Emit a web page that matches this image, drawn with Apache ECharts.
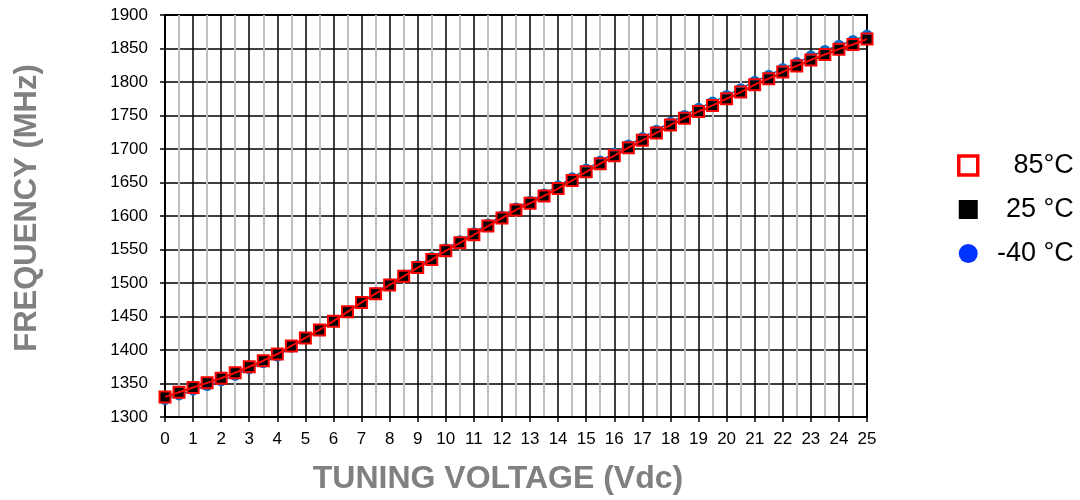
<!DOCTYPE html>
<html>
<head>
<meta charset="utf-8">
<script src="https://cdn.jsdelivr.net/npm/echarts@6/dist/echarts.min.js"></script>
<style>html,body{margin:0;padding:0;background:#fff;}#c{width:1080px;height:500px;}</style>
</head>
<body>
<div id="c"></div>
<script>
const voltage = [0,0.5,1,1.5,2,2.5,3,3.5,4,4.5,5,5.5,6,6.5,7,7.5,8,8.5,9,9.5,10,10.5,11,11.5,12,12.5,13,13.5,14,14.5,15,15.5,16,16.5,17,17.5,18,18.5,19,19.5,20,20.5,21,21.5,22,22.5,23,23.5,24,24.5,25];
const freq85 = [1330,1337,1344,1351,1358,1366,1375,1384,1394,1406,1418,1430,1443,1457,1471,1484,1497,1510,1523,1535,1548,1560,1572,1585,1597,1609,1619,1630,1641,1653,1666,1678,1690,1702,1713,1724,1736,1746,1756,1765,1775,1785,1796,1805,1815,1824,1833,1841,1849,1856,1864];
const freq25 = [1330,1337,1344,1351,1358,1366,1375,1384,1394,1406,1418,1430,1443,1457,1471,1484,1497,1510,1523,1535,1548,1560,1572,1585,1597,1609,1619,1630,1641,1653,1665,1677,1689,1701,1712,1723,1735,1745,1755,1764,1774,1784,1795,1804,1814,1823,1832,1840,1848,1855,1863];
const freqM40 = [1326,1333,1340,1347,1354,1362,1372,1381,1391,1404,1417,1429,1443,1458,1472,1486,1499,1512,1526,1538,1551,1563,1575,1588,1600,1612,1622,1633,1645,1657,1670,1682,1694,1706,1717,1728,1740,1750,1761,1770,1780,1790,1801,1810,1820,1829,1839,1847,1855,1862,1870];
const seriesNames = ['85°C', '25 °C', '-40 °C'];
const xTitle = 'TUNING VOLTAGE (Vdc)';
const yTitle = 'FREQUENCY (MHz)';

const pair = (ys) => voltage.map((v, i) => [v, ys[i]]);
const FONT = 'Liberation Sans, Arial, Helvetica, sans-serif';

const chart = echarts.init(document.getElementById('c'), null, {renderer: 'canvas'});
chart.setOption({
  animation: false,
  backgroundColor: '#fff',
  grid: {left: 165, right: 213, top: 15, bottom: 83, show: true, borderColor: '#000', borderWidth: 2, backgroundColor: 'transparent'},
  xAxis: {
    type: 'value', min: 0, max: 25, interval: 1,
    name: xTitle, nameLocation: 'middle', nameGap: 46,
    nameTextStyle: {fontFamily: FONT, fontSize: 32, fontWeight: 'bold', color: '#808080', padding: [0, 36, 0, 0]},
    axisLine: {show: true, lineStyle: {color: '#000', width: 2}},
    axisTick: {show: true, length: 5, lineStyle: {color: '#000', width: 1.5}},
    axisLabel: {fontFamily: FONT, fontSize: 17, color: '#000', margin: 14, formatter: (v) => String(v)},
    splitLine: {show: true, lineStyle: {color: '#000', width: 1.5}},
    minorTick: {show: false, splitNumber: 2},
    minorSplitLine: {show: true, lineStyle: {color: '#c0c0c0', width: 2}}
  },
  yAxis: {
    type: 'value', min: 1300, max: 1900, interval: 50,
    name: yTitle, nameLocation: 'middle', nameGap: 122, nameRotate: 90,
    nameTextStyle: {fontFamily: FONT, fontSize: 31, fontWeight: 'bold', color: '#808080', padding: [0, 0, 0, 16]},
    axisLine: {show: true, lineStyle: {color: '#000', width: 2}},
    axisTick: {show: true, length: 5, lineStyle: {color: '#000', width: 1.5}},
    axisLabel: {fontFamily: FONT, fontSize: 17, color: '#000', margin: 17, formatter: (v) => String(v)},
    splitLine: {show: true, lineStyle: {color: '#000', width: 1.5}}
  },
  legend: {
    orient: 'vertical', left: 952, top: 147, itemWidth: 19, itemHeight: 19, itemGap: 17,
    selectedMode: false,
    data: [
      {name: seriesNames[0], icon: 'rect', itemStyle: {color: '#fff', borderColor: '#ff0000', borderWidth: 3.5}},
      {name: seriesNames[1], icon: 'rect', itemStyle: {color: '#000', borderWidth: 0}},
      {name: seriesNames[2], icon: 'circle', itemStyle: {color: '#0033ff', borderWidth: 0}}
    ],
    formatter: (n) => '{t|' + n + '}',
    textStyle: {fontFamily: FONT, fontSize: 27, color: '#000', rich: {t: {fontFamily: FONT, fontSize: 27, color: '#000', width: 91, align: 'right'}}}
  },
  series: [
    {
      name: seriesNames[2], type: 'line', data: pair(freqM40), z: 2,
      symbol: 'circle', symbolSize: 11,
      lineStyle: {color: '#0a6fc2', width: 1.5},
      itemStyle: {color: '#0a6fc2', borderWidth: 0}
    },
    {
      name: seriesNames[1], type: 'line', data: pair(freq25), z: 3,
      symbol: 'rect', symbolSize: 10,
      lineStyle: {color: '#000', width: 1.5},
      itemStyle: {color: '#000', borderWidth: 0}
    },
    {
      name: seriesNames[0], type: 'line', data: pair(freq85), z: 4,
      symbol: 'rect', symbolSize: 11,
      lineStyle: {color: '#ff0000', width: 2},
      itemStyle: {color: 'rgba(0,0,0,0)', borderColor: '#ff0000', borderWidth: 2}
    }
  ]
});
</script>
</body>
</html>
